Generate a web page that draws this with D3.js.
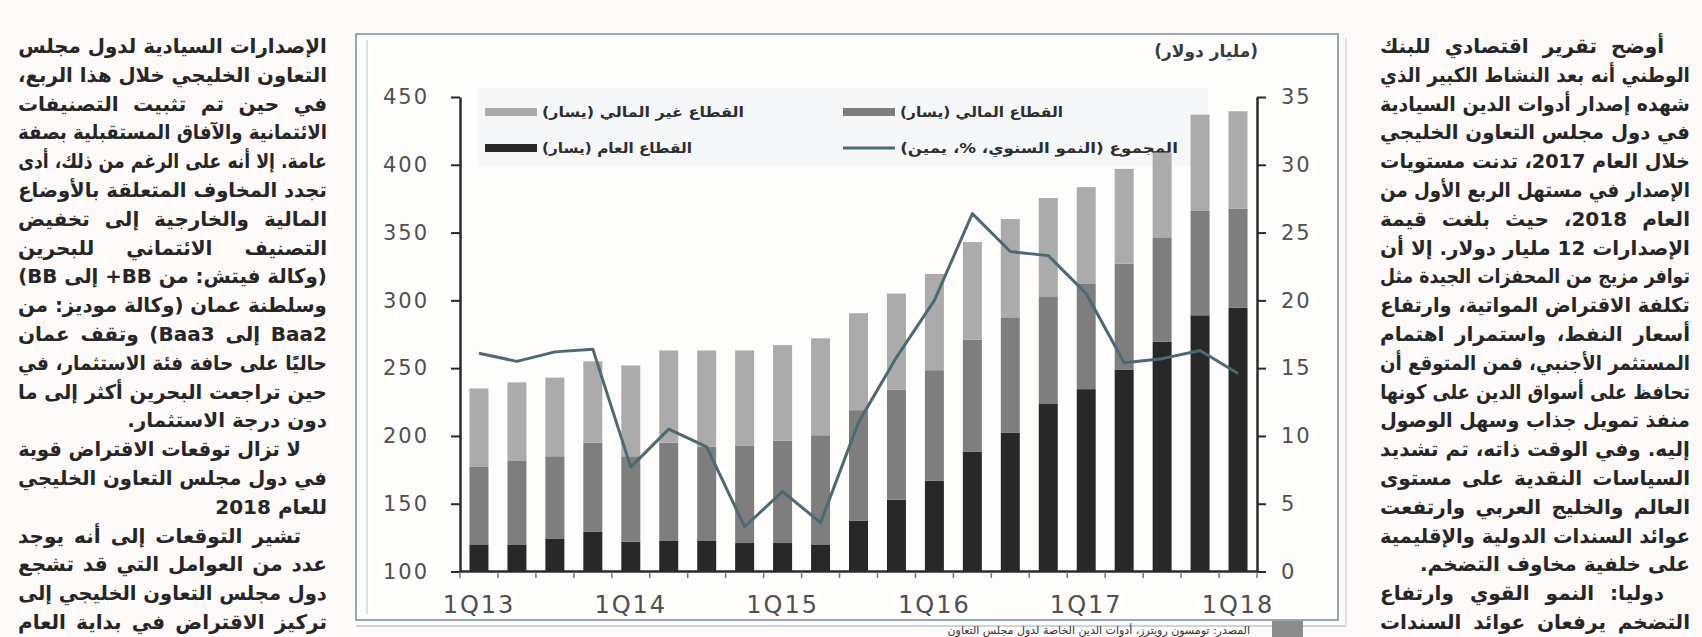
<!DOCTYPE html>
<html lang="ar">
<head>
<meta charset="utf-8">
<script src="https://cdn.jsdelivr.net/npm/d3@7"></script>
<style>
  html, body { margin: 0; padding: 0; background: #fdfaf9; }
  svg { display: block; }
</style>
</head>
<body>
<svg id="page" width="1702" height="637"></svg>
<script>
// Quarters on the category axis
var quarters = ["1Q13", "2Q13", "3Q13", "4Q13", "1Q14", "2Q14", "3Q14", "4Q14",
    "1Q15", "2Q15", "3Q15", "4Q15", "1Q16", "2Q16", "3Q16", "4Q16",
    "1Q17", "2Q17", "3Q17", "4Q17", "1Q18"];
var labelQuarters = ["1Q13", "1Q14", "1Q15", "1Q16", "1Q17", "1Q18"];

// Outstanding bonds & sukuk (USD bn)
var government   = [120, 120, 124, 129.5, 122, 122.5, 122.5, 121, 121, 120, 137.5, 153, 167, 188.5, 202.5, 224, 234.5, 249, 269.5, 289, 294.5];
var financial    = [57.5, 61.5, 61, 65.5, 63, 72.5, 69.5, 72, 75.5, 80.5, 81.5, 81, 81.5, 82.5, 85, 79, 78, 78, 77, 77, 73];
var nonFinancial = [57.5, 58, 58, 60, 67, 68, 71, 70, 70.5, 71.5, 71.5, 71, 71, 72, 72.5, 72.5, 71, 70, 62.5, 71, 72];
// Total, y/y % growth (right axis)
var growth = [16.1, 15.5, 16.2, 16.4, 7.7, 10.5, 9.2, 3.3, 5.9, 3.6, 11.0, 15.8, 20.0, 26.4, 23.6, 23.3, 20.5, 15.4, 15.7, 16.3, 14.6];

var leftTicks = [100, 150, 200, 250, 300, 350, 400, 450];
var rightTicks = [0, 5, 10, 15, 20, 25, 30, 35];

var unitLabel = "(مليار دولار)";
var legendLabels = ["القطاع غير المالي (يسار)", "القطاع المالي (يسار)", "القطاع العام (يسار)", "المجموع (النمو السنوي، %، يمين)"];
var sourceLabel = "المصدر: تومسون رويترز، أدوات الدين الخاصة لدول مجلس التعاون";

// Newspaper columns around the chart
var leftColumn = [
    "الإصدارات السيادية لدول مجلس",
    "التعاون الخليجي خلال هذا الربع،",
    "في حين تم تثبيت التصنيفات",
    "الائتمانية والآفاق المستقبلية بصفة",
    "عامة. إلا أنه على الرغم من ذلك، أدى",
    "تجدد المخاوف المتعلقة بالأوضاع",
    "المالية والخارجية إلى تخفيض",
    "التصنيف الائتماني للبحرين",
    "(وكالة فيتش: من BB+ إلى BB)",
    "وسلطنة عمان (وكالة موديز: من",
    "Baa2 إلى Baa3) وتقف عمان",
    "حاليًا على حافة فئة الاستثمار، في",
    "حين تراجعت البحرين أكثر إلى ما",
    "دون درجة الاستثمار.",
    "لا تزال توقعات الاقتراض قوية",
    "في دول مجلس التعاون الخليجي",
    "للعام 2018",
    "تشير التوقعات إلى أنه يوجد",
    "عدد من العوامل التي قد تشجع",
    "دول مجلس التعاون الخليجي إلى",
    "تركيز الاقتراض في بداية العام"
];
var leftIndent = [14, 17];
var leftShort = [13, 16];

var rightColumn = [
    "أوضح تقرير اقتصادي للبنك",
    "الوطني أنه بعد النشاط الكبير الذي",
    "شهده إصدار أدوات الدين السيادية",
    "في دول مجلس التعاون الخليجي",
    "خلال العام 2017، تدنت مستويات",
    "الإصدار في مستهل الربع الأول من",
    "العام 2018، حيث بلغت قيمة",
    "الإصدارات 12 مليار دولار. إلا أن",
    "توافر مزيج من المحفزات الجيدة مثل",
    "تكلفة الاقتراض المواتية، وارتفاع",
    "أسعار النفط، واستمرار اهتمام",
    "المستثمر الأجنبي، فمن المتوقع أن",
    "تحافظ على أسواق الدين على كونها",
    "منفذ تمويل جذاب وسهل الوصول",
    "إليه. وفي الوقت ذاته، تم تشديد",
    "السياسات النقدية على مستوى",
    "العالم والخليج العربي وارتفعت",
    "عوائد السندات الدولية والإقليمية",
    "على خلفية مخاوف التضخم.",
    "دوليا: النمو القوي وارتفاع",
    "التضخم يرفعان عوائد السندات"
];
var rightIndent = [0, 19];
var rightShort = [18];

var colours = { gov: "#282828", fin: "#7e7e7e", nonfin: "#ababab", line: "#4b6a74" };
var arabicFont = "'DejaVu Sans', sans-serif";

var svg = d3.select("#page");

// Put an rtl text into [right - width, right].
// mode "justify": spread words, "right": flush right, "fit": scale to the width.
// Too long texts are always squeezed with a horizontal scale.
function placeText(t, right, width, mode) {
    var str = t.text();
    t.attr("x", 0).attr("text-anchor", "middle").style("direction", "rtl");
    var len = t.node().getComputedTextLength();
    var y = +t.attr("y");
    t.attr("y", 0);
    if (len > width || mode === "fit") {
        t.attr("transform", "translate(" + (right - width / 2) + "," + y + ") scale(" + (width / len) + ",1)");
    } else if (mode === "justify") {
        var n = (str.match(/ /g) || []).length;
        if (n) t.style("word-spacing", ((width - len) / n) + "px");
        t.attr("transform", "translate(" + (right - width / 2) + "," + y + ")");
    } else {
        t.attr("transform", "translate(" + (right - len / 2) + "," + y + ")");
    }
}

// ---- text columns ----
function drawColumn(lines, indent, short, right, width) {
    var g = svg.append("g")
        .attr("font-family", arabicFont)
        .attr("font-weight", "bold")
        .attr("font-size", 20)
        .attr("fill", "#262626");
    lines.forEach(function (str, i) {
        var ind = indent.indexOf(i) >= 0 ? 26 : 0;
        var t = g.append("text").attr("y", 53 + i * 28.8).text(str);
        placeText(t, right - ind, width - ind, short.indexOf(i) < 0 ? "justify" : "right");
    });
}
drawColumn(leftColumn, leftIndent, leftShort, 327, 309);
drawColumn(rightColumn, rightIndent, rightShort, 1690, 310);

// ---- chart frame ----
svg.append("rect")
    .attr("x", 356).attr("y", 34).attr("width", 982).attr("height", 586)
    .attr("fill", "#fffdfc").attr("stroke", "#93a9b4").attr("stroke-width", 2);
svg.append("line")
    .attr("x1", 367).attr("x2", 367).attr("y1", 40).attr("y2", 614)
    .attr("stroke", "#cbd7dd").attr("stroke-width", 1.5);
svg.append("line")
    .attr("x1", 356).attr("x2", 1346).attr("y1", 626).attr("y2", 626)
    .attr("stroke", "#b9c8cf").attr("stroke-width", 1.5);
svg.append("line")
    .attr("x1", 1346).attr("x2", 1346).attr("y1", 38).attr("y2", 626)
    .attr("stroke", "#d3dde2").attr("stroke-width", 1.5);
svg.append("rect")
    .attr("x", 1272).attr("y", 621).attr("width", 31).attr("height", 16)
    .attr("fill", "#8c8c8c");

var source = svg.append("text")
    .attr("y", 634)
    .attr("font-family", arabicFont).attr("font-size", 11).attr("fill", "#333")
    .text(sourceLabel);
placeText(source, 1250, 480, "right");

// ---- scales ----
var x = d3.scaleBand()
    .domain(quarters)
    .range([460, 1257])
    .paddingInner(0.5)
    .paddingOuter(0.25);

var yLeft = d3.scaleLinear().domain([100, 450]).range([571.5, 97]);
var yRight = d3.scaleLinear().domain([0, 35]).range([571.5, 97]);

// ---- legend ----
var legend = svg.append("g")
    .attr("font-family", arabicFont)
    .attr("font-weight", "bold")
    .attr("font-size", 14)
    .attr("fill", "#2e2e2e");

legend.append("rect")
    .attr("x", 478).attr("y", 88).attr("width", 730).attr("height", 78)
    .attr("fill", "#eef3f5").attr("opacity", 0.55);

var legendItems = [
    { label: legendLabels[0], type: "bar", colour: colours.nonfin, x: 485, y: 112, w: 202 },
    { label: legendLabels[1], type: "bar", colour: colours.fin, x: 843, y: 112, w: 163 },
    { label: legendLabels[2], type: "bar", colour: colours.gov, x: 485, y: 148, w: 150 },
    { label: legendLabels[3], type: "line", colour: colours.line, x: 843, y: 148, w: 278 }
];
legendItems.forEach(function (d) {
    if (d.type === "bar") {
        legend.append("rect")
            .attr("x", d.x).attr("y", d.y - 4).attr("width", 52).attr("height", 8)
            .attr("fill", d.colour);
    } else {
        legend.append("line")
            .attr("x1", d.x).attr("x2", d.x + 52).attr("y1", d.y).attr("y2", d.y)
            .attr("stroke", d.colour).attr("stroke-width", 3);
    }
    var t = legend.append("text").attr("y", d.y + 5).text(d.label);
    placeText(t, d.x + 57 + d.w, d.w, "fit");
});

var unit = svg.append("text")
    .attr("y", 57)
    .attr("font-family", arabicFont).attr("font-weight", "bold")
    .attr("font-size", 17).attr("fill", "#3a3a3a")
    .text(unitLabel);
placeText(unit, 1258, 140, "right");

// ---- stacked bars ----
var rows = quarters.map(function (q, i) {
    return { q: q, gov: government[i], fin: financial[i], nonfin: nonFinancial[i] };
});
var stack = d3.stack().keys(["gov", "fin", "nonfin"]);
var series = stack(rows);

svg.append("g").selectAll("g")
    .data(series)
    .enter().append("g")
    .attr("fill", function (s) { return colours[s.key]; })
    .selectAll("rect")
    .data(function (s) { return s; })
    .enter().append("rect")
    .attr("x", function (d) { return x(d.data.q); })
    .attr("width", x.bandwidth())
    .attr("y", function (d) { return yLeft(d[1]); })
    .attr("height", function (d) { return yLeft(Math.max(d[0], 100)) - yLeft(d[1]); });

// ---- growth line ----
var line = d3.line()
    .x(function (d, i) { return x(quarters[i]) + x.bandwidth() / 2; })
    .y(function (d) { return yRight(d); });

svg.append("path")
    .datum(growth)
    .attr("d", line)
    .attr("fill", "none")
    .attr("stroke", colours.line)
    .attr("stroke-width", 3)
    .attr("stroke-linejoin", "round");

// ---- axes ----
function styleAxis(g, size) {
    g.select(".domain").attr("stroke", "#2b2b2b").attr("stroke-width", 2.5);
    g.selectAll(".tick line").attr("stroke", "#2b2b2b").attr("stroke-width", 2);
    g.selectAll(".tick text")
        .attr("font-family", "'DejaVu Sans', sans-serif")
        .attr("font-size", size)
        .attr("fill", "#505050")
        .style("letter-spacing", "2px");
}

svg.append("g")
    .attr("transform", "translate(460,0)")
    .call(d3.axisLeft(yLeft).tickValues(leftTicks).tickSize(9).tickSizeOuter(0).tickPadding(22))
    .call(styleAxis, 21);

svg.append("g")
    .attr("transform", "translate(1257,0)")
    .call(d3.axisRight(yRight).tickValues(rightTicks).tickSize(9).tickSizeOuter(0).tickPadding(15))
    .call(styleAxis, 21);

var xAxis = svg.append("g")
    .attr("transform", "translate(0,571.5)")
    .call(d3.axisBottom(x).tickValues(labelQuarters).tickSize(0).tickSizeOuter(0).tickPadding(24))
    .call(styleAxis, 24);
xAxis.select(".domain").attr("d", "M460,0H1257");

// small ticks at category boundaries
svg.append("g").selectAll("line")
    .data(d3.range(quarters.length + 1))
    .enter().append("line")
    .attr("x1", function (i) { return x.range()[0] + i * x.step(); })
    .attr("x2", function (i) { return x.range()[0] + i * x.step(); })
    .attr("y1", 572).attr("y2", 578)
    .attr("stroke", "#5f7f8a").attr("stroke-width", 1.5);
</script>
</body>
</html>
